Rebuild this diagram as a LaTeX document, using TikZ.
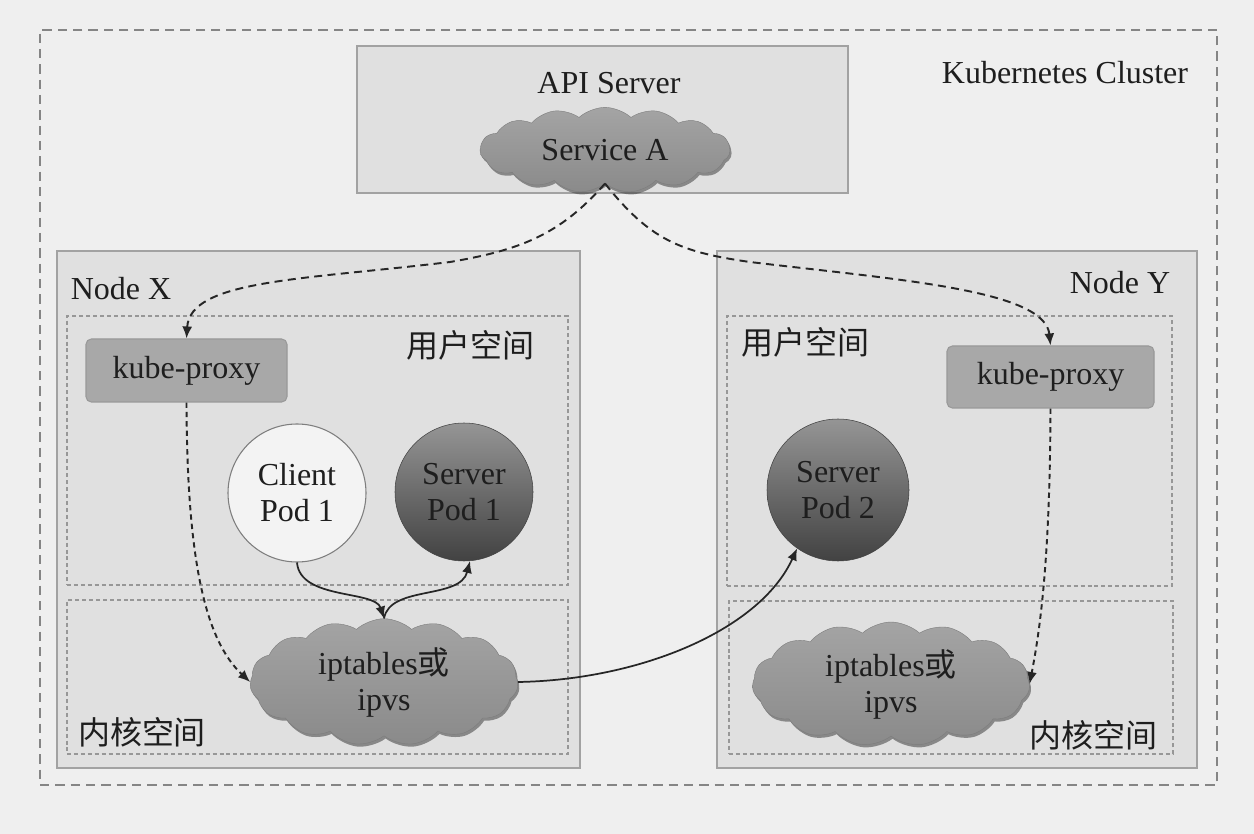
\documentclass[tikz,border=0pt]{standalone}
\usepackage{fontspec}
\setmainfont{Liberation Serif}
\newfontfamily\cjk{Noto Sans CJK SC}
\usetikzlibrary{shapes.symbols,shadows,fit,arrows.meta}
\definecolor{bg}{HTML}{EFEFEF}
\definecolor{boxfill}{HTML}{E0E0E0}
\definecolor{boxline}{HTML}{A2A2A2}
\definecolor{spaceline}{HTML}{979797}
\definecolor{clusterline}{HTML}{858585}
\definecolor{proxyfill}{HTML}{A8A8A8}
\definecolor{proxyline}{HTML}{999999}
\definecolor{cloudtop}{HTML}{A4A4A4}
\definecolor{cloudbot}{HTML}{8A8A8A}
\definecolor{podtop}{HTML}{959595}
\definecolor{podbot}{HTML}{424242}
\definecolor{clientfill}{HTML}{F3F3F3}
\definecolor{clientline}{HTML}{7E7E7E}
\definecolor{txt}{HTML}{1E1E1E}
\definecolor{arrowc}{HTML}{262626}
\begin{document}
\begin{tikzpicture}[x=0.75pt,y=-0.75pt,
  every node/.style={font=\fontsize{24}{27}\selectfont, text=txt},
  cluster/.style={draw=clusterline, dash pattern=on 7pt off 4.5pt, line width=1.1pt, inner sep=0pt},
  box/.style={draw=boxline, line width=1.1pt, fill=boxfill, inner sep=0pt},
  space/.style={draw=spaceline, dash pattern=on 3pt off 2.2pt, line width=0.8pt, inner sep=0pt},
  proxy/.style={draw=proxyline, fill=proxyfill, rounded corners=4pt, inner sep=0pt, line width=0.8pt},
  cloudnode/.style={cloud, cloud puffs=15, cloud puff arc=85, cloud ignores aspect, inner sep=0pt,
     top color=cloudtop, bottom color=cloudbot, draw=cloudbot!90!black, line width=0.3pt,
     drop shadow={shadow xshift=1.2pt, shadow yshift=-2pt, opacity=0.55, fill=black!75}, align=center},
  pod/.style={circle, inner sep=0pt, top color=podtop, bottom color=podbot, draw=podbot, line width=0.4pt, align=center},
  client/.style={circle, inner sep=0pt, fill=clientfill, draw=clientline, line width=0.8pt, align=center},
  darr/.style={draw=arrowc, line width=1.45pt, dash pattern=on 6pt off 4pt, -{Latex[length=9pt,width=7.5pt]}},
  sdarr/.style={draw=arrowc, line width=1.45pt, dash pattern=on 4pt off 3pt, -{Latex[length=9pt,width=7.5pt]}},
  sarr/.style={draw=arrowc, line width=1.3pt, -{Latex[length=9pt,width=7.5pt]}}]

\fill[bg] (0,0) rectangle (1254,834);
\useasboundingbox (0,0) rectangle (1254,834);

% cluster
\node[cluster, fit={(40,30) (1217,785)}] (cl) {};
\node (clabel) at (1065,73) {Kubernetes Cluster};

% API server
\node[box, fit={(357,46) (848,193)}] (api) {};
\node (apil) at (609,83) {API Server};
\node[cloudnode, minimum width=187.5pt, minimum height=64pt] (sa) at (605,150) {Service A};

% Node X
\node[box, fit={(57,251) (580,768)}] (nx) {};
\node (nxl) at (121,289) {Node X};
\node[space, fit={(67,316) (568,585)}] (ux) {};
\node[space, fit={(67,600) (568,754)}] (kx) {};
\node (uxl) at (470,345) {\cjk 用户空间};
\node (kxl) at (142,732) {\cjk 内核空间};
\node[proxy, fit={(86,339) (287,402)}] (kpx) {};
\node at (kpx.center) {kube-proxy};
\node[client, minimum size=103.5pt] (cp) at (297,493) {Client\\Pod 1};
\node[pod, minimum size=103.5pt] (sp1) at (464,492) {Server\\Pod 1};
\node[cloudnode, minimum width=201pt, minimum height=95pt] (ipx) at (384,682) {iptables{\cjk 或}\\ipvs};

% Node Y
\node[box, fit={(717,251) (1197,768)}] (ny) {};
\node (nyl) at (1120,283) {Node Y};
\node[space, fit={(727,316) (1172,586)}] (uy) {};
\node[space, fit={(729,601) (1173,754)}] (ky) {};
\node (uyl) at (805,342) {\cjk 用户空间};
\node (kyl) at (1093,735) {\cjk 内核空间};
\node[proxy, fit={(947,346) (1154,408)}] (kpy) {};
\node at (kpy.center) {kube-proxy};
\node[pod, minimum size=106.5pt] (sp2) at (838,490) {Server\\Pod 2};
\node[cloudnode, minimum width=208pt, minimum height=93pt] (ipy) at (891,684) {iptables{\cjk 或}\\ipvs};

% connectors
\draw[darr] (sa.south) .. controls (560,235) and (520,250) .. (450,262)
   .. controls (300,280) and (190,280) .. (kpx.north);
\draw[darr] (sa.south) .. controls (650,240) and (680,252) .. (750,262)
   .. controls (900,280) and (1045,290) .. (kpy.north);
\draw[sdarr] (kpx.south) .. controls (187,560) and (205,640) .. (ipx.west);
\draw[sdarr] (kpy.south) .. controls (1050,560) and (1040,630) .. (ipy.east);
\draw[sarr] (cp.south) .. controls (300,600) and (375,590) .. (ipx.north);
\draw[sarr] (ipx.north) .. controls (390,585) and (460,600) .. (sp1.-85);
\draw[sarr] (ipx.east) .. controls (640,680) and (760,630) .. (sp2.-125);
\end{tikzpicture}
\end{document}
